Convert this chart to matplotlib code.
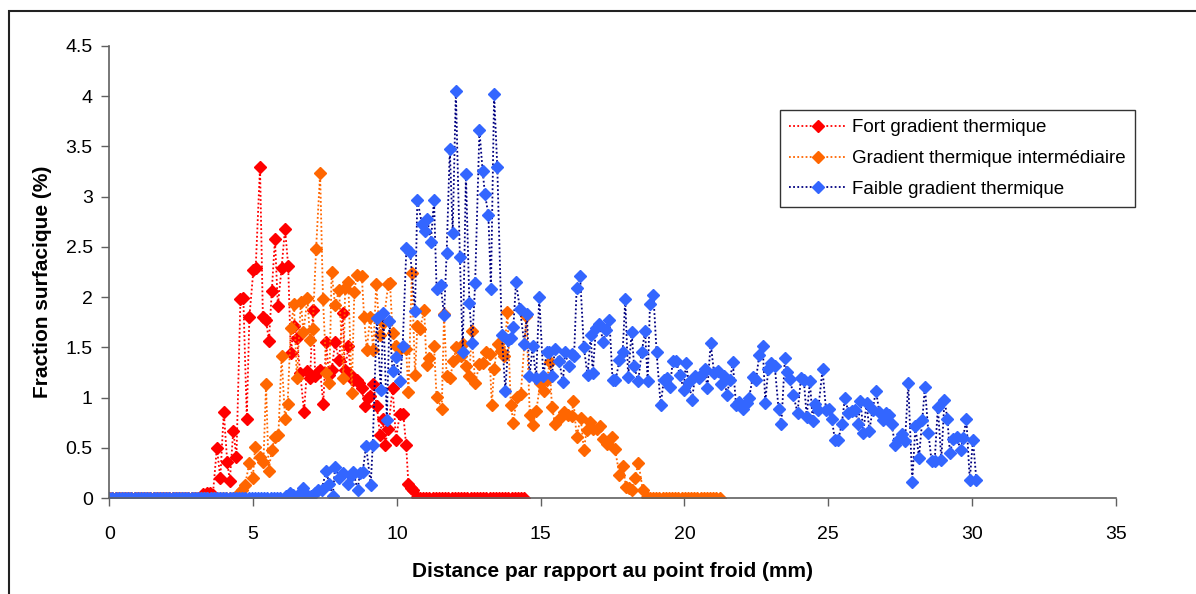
import numpy as np
import matplotlib.pyplot as plt
from matplotlib.patches import Rectangle

plt.rcParams['font.family'] = ['Liberation Sans', 'DejaVu Sans']

# sampling step of the zero runs (mm)
step = 0.11

# Fort gradient thermique
red_zero_runs = [(0.0, 3.16), (10.80, 14.50)]
red_x = [3.27, 3.38, 3.49, 3.60, 3.74, 3.86, 3.98, 4.10, 4.19, 4.31, 4.42, 4.56, 4.66, 4.78,
         4.87, 5.01, 5.09, 5.24, 5.34, 5.45, 5.55, 5.65, 5.76, 5.86, 5.99, 6.11, 6.22, 6.31,
         6.42, 6.52, 6.64, 6.77, 6.87, 6.98, 7.08, 7.16, 7.25, 7.33, 7.44, 7.54, 7.64, 7.73,
         7.85, 7.99, 8.11, 8.20, 8.31, 8.40, 8.49, 8.60, 8.69, 8.77, 8.89, 8.98, 9.07, 9.18,
         9.30, 9.41, 9.50, 9.59, 9.70, 9.85, 9.97, 10.10, 10.22, 10.32, 10.40, 10.50, 10.57,
         10.69]
red_y = [0.04, 0.05, 0.05, 0.03, 0.50, 0.20, 0.86, 0.36, 0.17, 0.67, 0.41, 1.98, 1.99, 0.79,
         1.80, 2.27, 2.29, 3.30, 1.80, 1.77, 1.56, 2.06, 2.58, 1.91, 2.29, 2.68, 2.31, 1.44,
         1.71, 1.59, 1.24, 0.86, 1.26, 1.19, 1.87, 1.21, 1.25, 1.27, 0.94, 1.55, 1.22, 1.27,
         1.55, 1.37, 1.84, 1.27, 1.51, 1.22, 1.17, 1.17, 1.14, 1.10, 0.92, 1.00, 1.02, 1.13,
         0.92, 0.63, 0.79, 0.53, 0.69, 1.10, 0.58, 0.84, 0.84, 0.53, 0.14, 0.10, 0.08,
         0.01]

# Gradient thermique intermediaire
orange_zero_runs = [(0.0, 4.43), (18.80, 21.29)]
orange_x = [4.54, 4.63, 4.72, 4.87, 4.99, 5.07, 5.24, 5.36, 5.45, 5.54, 5.65, 5.76, 5.88, 5.99,
            6.11, 6.20, 6.31, 6.42, 6.52, 6.66, 6.75, 6.89, 6.98, 7.07, 7.19, 7.33, 7.43, 7.55,
            7.65, 7.73, 7.85, 7.99, 8.14, 8.20, 8.31, 8.43, 8.52, 8.60, 8.78, 8.86, 8.95, 9.07,
            9.18, 9.28, 9.41, 9.53, 9.70, 9.76, 9.85, 9.97, 10.11, 10.32, 10.40, 10.52, 10.63,
            10.71, 10.80, 10.95, 11.03, 11.13, 11.29, 11.38, 11.56, 11.64, 11.73, 11.85, 11.96,
            12.07, 12.22, 12.31, 12.40, 12.52, 12.60, 12.72, 12.87, 12.98, 13.10, 13.22, 13.30,
            13.38, 13.50, 13.61, 13.73, 13.84, 13.96, 14.05, 14.17, 14.31, 14.50, 14.62, 14.73,
            14.85, 14.98, 15.10, 15.22, 15.31, 15.39, 15.50, 15.65, 15.82, 15.96, 16.08, 16.14,
            16.25, 16.39, 16.50, 16.60, 16.71, 16.83, 16.95, 17.06, 17.18, 17.29, 17.47, 17.58,
            17.74, 17.85, 17.97, 18.07, 18.17, 18.28, 18.40, 18.55, 18.69]
orange_y = [0.06, 0.08, 0.13, 0.35, 0.20, 0.51, 0.41, 0.36, 1.13, 0.27, 0.48, 0.61, 0.63, 1.41,
            0.79, 0.94, 1.69, 1.93, 1.19, 1.95, 1.65, 1.99, 1.57, 1.68, 2.48, 3.24, 1.98, 1.24,
            1.14, 2.25, 1.92, 2.07, 1.19, 2.09, 2.15, 1.05, 2.05, 2.22, 2.21, 1.80, 1.47, 1.80,
            1.47, 2.13, 1.62, 1.74, 2.13, 2.14, 1.64, 1.51, 1.48, 1.48, 1.06, 2.24, 1.22,
            1.71, 1.68, 1.87, 1.32, 1.39, 1.51, 1.01, 0.89, 1.83, 1.21, 1.19, 1.36,
            1.50, 1.41, 1.53, 1.31, 1.21, 1.66, 1.14, 1.33, 1.34, 1.45, 1.43, 0.93,
            1.28, 1.53, 1.46, 1.41, 1.85, 0.93, 0.75, 1.01, 1.04, 1.81, 0.83, 0.73,
            0.87, 1.14, 1.07, 1.17, 1.35, 0.91, 0.74, 0.79, 0.86, 0.83, 0.82, 0.97,
            0.61, 0.80, 0.48, 0.68, 0.76, 0.69, 0.69, 0.72, 0.59, 0.54, 0.61, 0.49,
            0.23, 0.32, 0.11, 0.10, 0.08, 0.20, 0.35, 0.08, 0.01]

# Faible gradient thermique
blue_zero_runs = [(0.0, 6.04)]
blue_x = [6.15, 6.28, 6.40, 6.55, 6.66, 6.75, 6.89, 7.00, 7.15, 7.27, 7.38, 7.54, 7.65, 7.77,
          7.85, 8.00, 8.14, 8.31, 8.40, 8.49, 8.63, 8.72, 8.81, 8.93, 9.09, 9.16, 9.30, 9.44,
          9.53, 9.65, 9.74, 9.85, 9.97, 10.11, 10.20, 10.33, 10.46, 10.63, 10.71, 10.87, 10.98,
          11.06, 11.18, 11.29, 11.38, 11.52, 11.64, 11.73, 11.84, 11.94, 12.05, 12.19, 12.29,
          12.40, 12.52, 12.62, 12.72, 12.87, 12.98, 13.06, 13.18, 13.27, 13.38, 13.49, 13.65,
          13.77, 13.88, 13.96, 14.05, 14.14, 14.28, 14.43, 14.52, 14.61, 14.72, 14.84, 14.95,
          15.09, 15.21, 15.30, 15.38, 15.50, 15.65, 15.77, 15.85, 15.97, 16.08, 16.16, 16.25,
          16.37, 16.50, 16.63, 16.74, 16.81, 16.92, 17.04, 17.18, 17.27, 17.39, 17.50, 17.60,
          17.74, 17.85, 17.94, 18.04, 18.16, 18.25, 18.39, 18.51, 18.63, 18.72, 18.80, 18.92,
          19.03, 19.17, 19.28, 19.40, 19.50, 19.59, 19.71, 19.85, 19.97, 20.05, 20.15, 20.26,
          20.37, 20.52, 20.63, 20.70, 20.80, 20.91, 21.03, 21.18, 21.26, 21.38, 21.47, 21.58,
          21.68, 21.79, 21.91, 22.02, 22.16, 22.25, 22.37, 22.48, 22.60, 22.72, 22.81, 22.91,
          23.00, 23.14, 23.27, 23.37, 23.49, 23.57, 23.67, 23.78, 23.93, 24.05, 24.15, 24.25,
          24.36, 24.46, 24.54, 24.65, 24.80, 24.92, 25.02, 25.12, 25.23, 25.35, 25.47, 25.58,
          25.70, 25.81, 25.93, 26.04, 26.12, 26.22, 26.33, 26.43, 26.54, 26.66, 26.77, 26.91,
          27.01, 27.12, 27.20, 27.32, 27.43, 27.55, 27.67, 27.78, 27.92, 28.03, 28.15, 28.27,
          28.36, 28.48, 28.59, 28.70, 28.81, 28.93, 29.04, 29.14, 29.23, 29.35, 29.46, 29.60,
          29.69, 29.80, 29.92, 30.03, 30.15]
blue_y = [0.02, 0.05, 0.03, 0.00, 0.06, 0.10, 0.03, 0.02, 0.05, 0.08, 0.08, 0.27, 0.14, 0.02,
          0.31, 0.20, 0.25, 0.14, 0.22, 0.26, 0.08, 0.25, 0.26, 0.52, 0.13, 0.53, 1.79, 1.08,
          1.84, 0.78, 1.76, 1.26, 1.40, 1.16, 1.51, 2.49, 2.45, 1.86, 2.97, 2.73, 2.66,
          2.78, 2.55, 2.97, 2.08, 2.12, 1.82, 2.44, 3.47, 2.64, 4.05, 2.40, 1.45,
          3.23, 1.94, 1.54, 2.14, 3.66, 3.26, 3.03, 2.82, 2.08, 4.02, 3.30, 1.62,
          1.07, 1.57, 1.59, 1.70, 2.15, 1.88, 1.53, 1.83, 1.21, 1.51, 1.19, 2.00,
          1.21, 1.45, 1.45, 1.21, 1.48, 1.36, 1.15, 1.45, 1.31, 1.43, 1.41, 2.09,
          2.21, 1.50, 1.22, 1.62, 1.24, 1.69, 1.73, 1.55, 1.67, 1.77, 1.17, 1.17,
          1.37, 1.45, 1.98, 1.20, 1.65, 1.31, 1.16, 1.45, 1.66, 1.16, 1.93, 2.02,
          1.45, 0.93, 1.17, 1.19, 1.11, 1.36, 1.36, 1.22, 1.08, 1.34, 1.15, 0.98,
          1.21, 1.19, 1.24, 1.28, 1.10, 1.54, 1.24, 1.26, 1.13, 1.21, 1.03, 1.17,
          1.35, 0.93, 0.96, 0.89, 0.95, 1.00, 1.20, 1.17, 1.42, 1.51, 0.95, 1.28,
          1.34, 1.31, 0.89, 0.74, 1.39, 1.25, 1.18, 1.03, 0.85, 1.19, 1.17, 0.81,
          1.16, 0.77, 0.94, 0.88, 1.28, 0.88, 0.89, 0.79, 0.58, 0.58, 0.74, 1.00,
          0.85, 0.87, 0.88, 0.74, 0.97, 0.65, 0.95, 0.67, 0.88, 1.07, 0.86, 0.78,
          0.85, 0.83, 0.74, 0.53, 0.58, 0.64, 0.57, 1.14, 0.16, 0.72, 0.40, 0.78,
          1.11, 0.65, 0.37, 0.37, 0.91, 0.38, 0.98, 0.79, 0.45, 0.59, 0.61, 0.48,
          0.60, 0.79, 0.18, 0.58, 0.18]


def build(zero_runs, xs, ys):
    # merge the flat zero runs with the measured points, sorted by distance
    px, py = list(xs), list(ys)
    for a, b in zero_runs:
        run = np.arange(a, b + 1e-6, step)
        px += list(run)
        py += [0.0] * len(run)
    order = np.argsort(px)
    return np.array(px)[order], np.array(py)[order]


series = [
    ("Fort gradient thermique", red_zero_runs, red_x, red_y, '#FF0000', '#FF0000'),
    ("Gradient thermique intermédiaire", orange_zero_runs, orange_x, orange_y, '#FF6600', '#FF6600'),
    ("Faible gradient thermique", blue_zero_runs, blue_x, blue_y, '#000080', '#3366FF'),
]

fig = plt.figure(figsize=(11.96, 5.94), dpi=100)
ax = fig.add_axes([0.0914, 0.1616, 0.8416, 0.761])

for label, runs, xs, ys, lc, mc in series:
    x, y = build(runs, xs, ys)
    ax.plot(x, y, linestyle=(0, (1, 1.3)), linewidth=1.3, color=lc,
            marker='D', markersize=6, markerfacecolor=mc, markeredgecolor=mc,
            label=label)

ax.set_xlim(0, 35)
ax.set_ylim(0, 4.5)
ax.set_xticks(np.arange(0, 36, 5))
ax.set_yticks(np.arange(0, 4.6, 0.5))
ax.set_yticklabels(['0', '0.5', '1', '1.5', '2', '2.5', '3', '3.5', '4', '4.5'])
ax.tick_params(labelsize=14, length=6, width=1, color='#606060')
ax.tick_params(axis='y', pad=6)
ax.tick_params(axis='x', pad=14)
for s in ['top', 'right']:
    ax.spines[s].set_visible(False)
for s in ['left', 'bottom']:
    ax.spines[s].set_color('#606060')
    ax.spines[s].set_linewidth(1.2)

ax.set_xlabel("Distance par rapport au point froid (mm)", fontsize=15, fontweight='bold', labelpad=14)
ax.set_ylabel("Fraction surfacique (%)", fontsize=15, fontweight='bold')
ax.yaxis.set_label_coords(-0.057, 0.478)

leg = ax.legend(loc='upper left', bbox_to_anchor=(780 / 1196, 1 - 110 / 594),
                bbox_transform=fig.transFigure, fontsize=13.5,
                frameon=True, fancybox=False, edgecolor='black', handlelength=3.0,
                borderpad=0.5, labelspacing=0.72, handletextpad=0.35, borderaxespad=0)
leg.get_frame().set_linewidth(1.0)

fig.add_artist(Rectangle((9 / 1196, -0.1), 1.2, 0.1 + 1 - 11 / 594, transform=fig.transFigure,
                         fill=False, edgecolor='#222222', linewidth=1.5, clip_on=False))

fig.savefig("out.png", dpi=100)
